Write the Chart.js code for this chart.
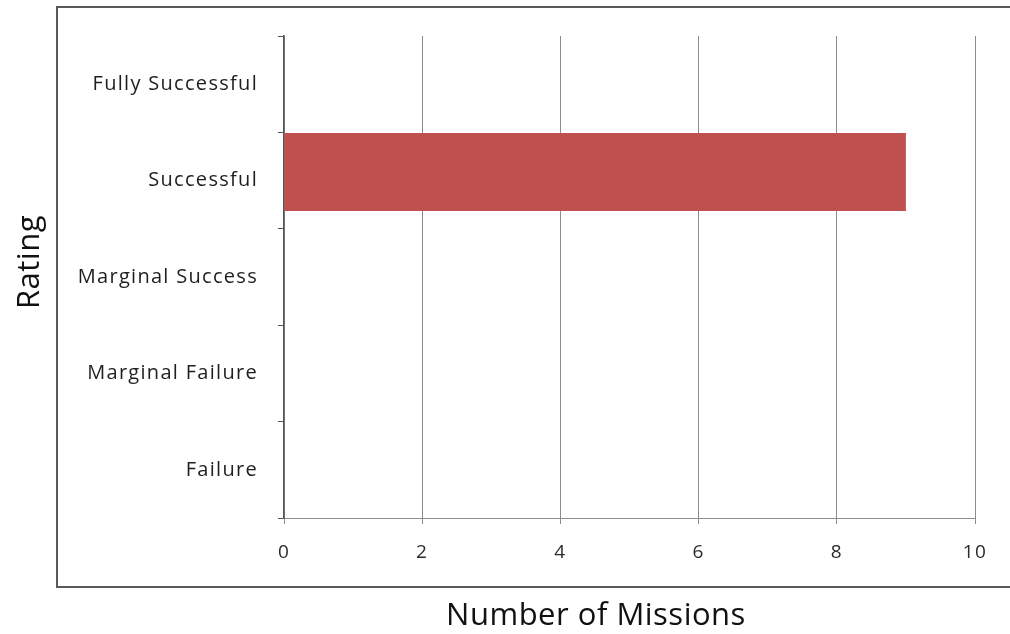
<!DOCTYPE html>
<html>
<head>
<meta charset="utf-8">
<script src="https://cdn.jsdelivr.net/npm/chart.js@4"></script>
<style>
  html, body { margin: 0; padding: 0; background: #fff; }
  #wrap { width: 1010px; height: 634px; }
</style>
</head>
<body>
<div id="wrap"><canvas id="missionChart" width="1010" height="634"></canvas></div>
<script>
// Data
const ratings = ['Fully Successful', 'Successful', 'Marginal Success', 'Marginal Failure', 'Failure'];
const missionCounts = [0, 9, 0, 0, 0];
const emptySeries = [0, 0, 0, 0, 0]; // second (empty) series, pushes the bar to the top of its slot
const xTicks = [0, 2, 4, 6, 8, 10];
const xTitle = 'Number of Missions';
const yTitle = 'Rating';

const labelFont = "'Open Sans', sans-serif";

// letter spacing for the wide scanned Calibri look
const spacingPlugin = {
  id: 'spacing',
  beforeUpdate(chart) { chart.ctx.letterSpacing = '1.3px'; },
  beforeDraw(chart) { chart.ctx.letterSpacing = '1.3px'; }
};

// outer frame + axis titles (titles are centred on the frame, not the plot)
const framePlugin = {
  id: 'frame',
  afterDraw(chart) {
    const ca = chart.chartArea;
    const ctx = chart.ctx;
    ctx.save();
    ctx.strokeStyle = '#5a5a5a';
    ctx.lineWidth = 2;
    ctx.strokeRect(ca.left - 227, ca.top - 29, chart.width + 20, ca.bottom - ca.top + 98);

    ctx.fillStyle = '#111';
    ctx.font = "31px 'Open Sans', sans-serif";
    ctx.letterSpacing = '0.5px';
    ctx.textAlign = 'center';
    ctx.textBaseline = 'alphabetic';
    ctx.fillText(xTitle, ca.left + 312, ca.bottom + 107);

    ctx.translate(ca.left - 245, ca.top + 226);
    ctx.rotate(-Math.PI / 2);
    ctx.fillText(yTitle, 0, 0);
    ctx.restore();
  }
};

const ctx = document.getElementById('missionChart').getContext('2d');
new Chart(ctx, {
  type: 'bar',
  data: {
    labels: ratings,
    datasets: [{
      label: 'Missions',
      data: missionCounts,
      backgroundColor: '#c0504d',
      borderWidth: 0
    }, {
      label: 'Empty',
      data: emptySeries,
      backgroundColor: '#4f81bd',
      borderWidth: 0
    }]
  },
  options: {
    indexAxis: 'y',
    responsive: false,
    animation: false,
    datasets: {
      bar: { categoryPercentage: 0.357, barPercentage: 4.53 }
    },
    layout: { padding: { left: 4, top: 36, right: 35, bottom: 0 } },
    plugins: {
      legend: { display: false },
      tooltip: { enabled: false }
    },
    scales: {
      x: {
        min: 0,
        max: 10,
        afterBuildTicks(scale) {
          scale.ticks = xTicks.map(v => ({ value: v }));
        },
        afterFit(scale) { scale.height = 116; },
        grid: {
          color: '#8c8c8c',
          lineWidth: 1,
          tickLength: 6,
          drawTicks: true
        },
        border: { color: '#8c8c8c', width: 1 },
        ticks: {
          padding: 17,
          color: '#2a2a2a',
          font: { family: labelFont, size: 19 }
        }
      },
      y: {
        afterFit(scale) { scale.width = 280; },
        grid: {
          drawOnChartArea: false,
          drawTicks: true,
          tickLength: 6,
          color: '#555'
        },
        border: { color: '#555', width: 1.5 },
        ticks: {
          padding: 20,
          color: '#1e1e1e',
          font: { family: labelFont, size: 20 }
        }
      }
    }
  },
  plugins: [spacingPlugin, framePlugin]
});
</script>
</body>
</html>
